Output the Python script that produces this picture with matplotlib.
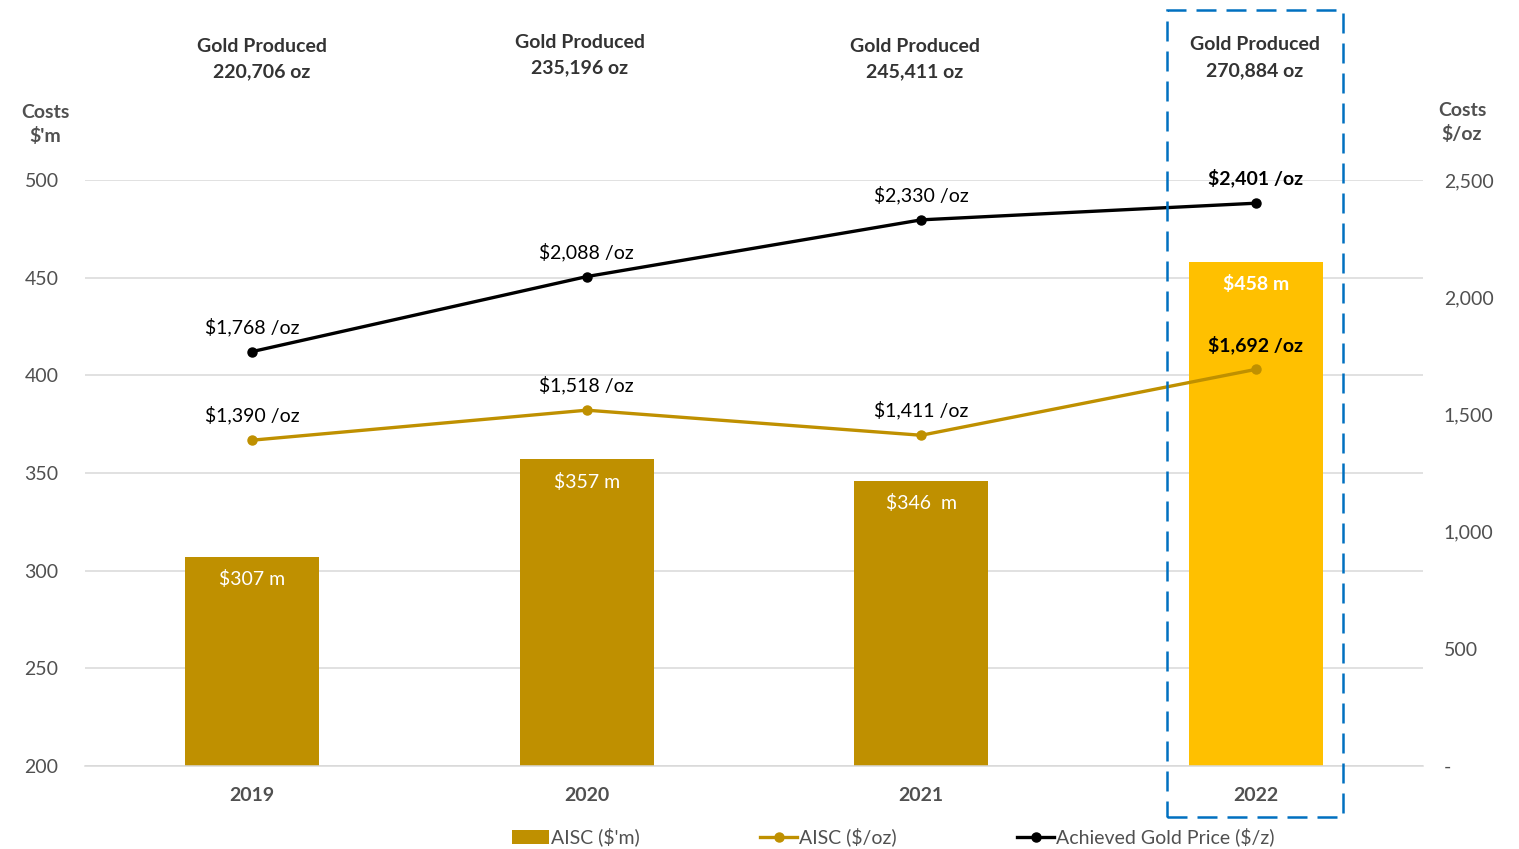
import matplotlib.pyplot as plt
from matplotlib.patches import Rectangle, Patch
from matplotlib.lines import Line2D

plt.rcParams['font.family'] = ['Lato', 'DejaVu Sans']

years = ['2019', '2020', '2021', '2022']
aisc_m = [307, 357, 346, 458]
aisc_m_labels = ['$307 m', '$357 m', '$346  m', '$458 m']
aisc_oz = [1390, 1518, 1411, 1692]
gold_price = [1768, 2088, 2330, 2401]
gold_produced = ['220,706', '235,196', '245,411', '270,884']

dark_gold = '#BF9000'
bright_gold = '#FFC000'
grey_txt = '#505050'

fig = plt.figure(figsize=(15.19, 8.49), dpi=100)
ax = fig.add_axes([85 / 1519, 1 - 766 / 849, 1338 / 1519, 586 / 849])
x = range(len(years))

bar_colors = [dark_gold, dark_gold, dark_gold, bright_gold]
bars = ax.bar(x, aisc_m, width=0.4, color=bar_colors, zorder=2)
ax.set_ylim(200, 500)
ax.set_xlim(-0.5, 3.5)
ax.set_yticks(range(200, 501, 50))
ax.yaxis.grid(True, color='#D9D9D9', linewidth=1.1, zorder=0)
ax.set_axisbelow(True)
for s in ['top', 'right', 'left']:
    ax.spines[s].set_visible(False)
ax.spines['bottom'].set_color('#D9D9D9')
ax.spines['bottom'].set_linewidth(1.1)
ax.tick_params(axis='y', length=0, pad=19, labelsize=14, labelcolor=grey_txt)
ax.tick_params(axis='x', length=0, pad=15, labelsize=14, labelcolor=grey_txt)
ax.set_xticks(list(x))
ax.set_xticklabels(years, fontweight='bold')

# bar value labels inside top
for i, (b, lab) in enumerate(zip(bars, aisc_m_labels)):
    ax.annotate(lab, xy=(b.get_x() + b.get_width() / 2, b.get_height()),
                xytext=(0, -16), textcoords='offset points',
                ha='center', va='center', color='white', fontsize=14,
                fontweight='bold' if i == 3 else 'normal')

ax2 = ax.twinx()
ax2.set_ylim(0, 2500)
ax2.set_yticks(range(0, 2501, 500))
ax2.set_yticklabels(['-'] + [f'{v:,}' for v in range(500, 2501, 500)])
ax2.tick_params(axis='y', length=0, pad=15, labelsize=14, labelcolor=grey_txt)
for s in ax2.spines.values():
    s.set_visible(False)

ax2.plot(x, aisc_oz, color=dark_gold, lw=2.4, marker='o', ms=6.5, zorder=3)
ax2.plot(x, gold_price, color='black', lw=2.4, marker='o', ms=6.5, zorder=3)

for i, (a, g) in enumerate(zip(aisc_oz, gold_price)):
    w = 'bold' if i == 3 else 'normal'
    ax2.annotate(f'${a:,} /oz', xy=(i, a), xytext=(0, 18), textcoords='offset points',
                 ha='center', va='center', fontsize=14, color='black', fontweight=w)
    ax2.annotate(f'${g:,} /oz', xy=(i, g), xytext=(0, 18), textcoords='offset points',
                 ha='center', va='center', fontsize=14, color='black', fontweight=w)

# gold produced headers above each year
head_x = [262, 580, 915, 1255]
head_y = [46, 42, 46, 45]
for gp, hx, hy in zip(gold_produced, head_x, head_y):
    fig.text(hx / 1519, 1 - hy / 849, 'Gold Produced', ha='center', va='center',
             fontsize=14, fontweight='bold', color='#333333')
    fig.text(hx / 1519, 1 - (hy + 26) / 849, f'{gp} oz', ha='center', va='center',
             fontsize=14, fontweight='bold', color='#333333')

fig.text(45 / 1519, 1 - 125 / 849, "Costs\n$'m", ha='center', va='center',
         fontsize=14, fontweight='bold', color=grey_txt, linespacing=1.4)
fig.text(1462 / 1519, 1 - 123 / 849, "Costs\n$/oz", ha='center', va='center',
         fontsize=14, fontweight='bold', color=grey_txt, linespacing=1.4)

# dashed highlight box around 2022
fig.patches.append(Rectangle((1167 / 1519, 1 - 817 / 849), 176 / 1519, 807 / 849,
                             transform=fig.transFigure, fill=False,
                             edgecolor='#0070C0', lw=1.8, linestyle=(0, (8, 4))))

handles = [Patch(facecolor=dark_gold),
           Line2D([], [], color=dark_gold, lw=2.4, marker='o', ms=6.5),
           Line2D([], [], color='black', lw=2.4, marker='o', ms=6.5)]
labels = ["AISC ($'m)", 'AISC ($/oz)', 'Achieved Gold Price ($/z)']
leg = fig.legend(handles, labels, loc='center', bbox_to_anchor=(0.588, 0.014),
                 ncol=3, frameon=False, fontsize=14, handlelength=1.9,
                 handletextpad=0.1, columnspacing=6.2)
for t in leg.get_texts():
    t.set_color(grey_txt)

fig.savefig('out.png', dpi=100)
